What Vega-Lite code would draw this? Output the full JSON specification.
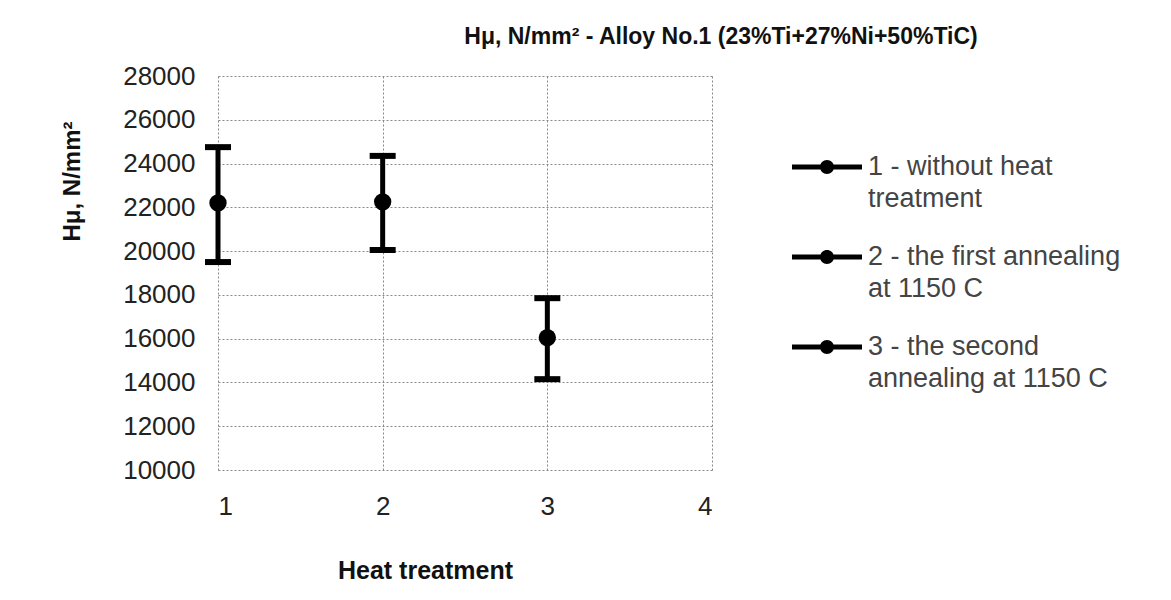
{
  "$schema": "https://vega.github.io/schema/vega-lite/v6.json",
  "autosize": "none",
  "padding": {"left": 218, "top": 76, "right": 459, "bottom": 130},
  "width": 494,
  "height": 394,
  "background": "white",
  "title": {
    "text": "Hμ, N/mm² - Alloy No.1 (23%Ti+27%Ni+50%TiC)",
    "font": "Liberation Sans",
    "fontSize": 23,
    "fontWeight": "bold",
    "color": "#111",
    "anchor": "middle",
    "frame": "group",
    "dx": 256,
    "offset": 14
  },
  "data": {
    "values": [
      {"treatment": 1, "mean": 22200, "low": 19500, "high": 24750, "series": "1 - without heat|treatment"},
      {"treatment": 2, "mean": 22250, "low": 20050, "high": 24350, "series": "2 - the first annealing|at 1150 C"},
      {"treatment": 3, "mean": 16050, "low": 14150, "high": 17850, "series": "3 - the second|annealing at 1150 C"}
    ]
  },
  "encoding": {
    "x": {
      "field": "treatment",
      "type": "quantitative",
      "scale": {"domain": [1, 4], "nice": false, "zero": false},
      "axis": {
        "values": [1, 2, 3, 4],
        "title": "Heat treatment",
        "titleFont": "Liberation Sans",
        "titleFontSize": 25,
        "titleFontWeight": "bold",
        "titleColor": "#111",
        "titleAlign": "center",
        "titleBaseline": "middle",
        "titleX": 207,
        "titleY": 100,
        "labelFont": "Liberation Sans",
        "labelFontSize": 26,
        "labelColor": "#222",
        "labelPadding": 23,
        "ticks": false,
        "domain": false,
        "grid": true,
        "gridColor": "#888",
        "gridDash": [2, 2],
        "gridWidth": 1
      }
    }
  },
  "layer": [
    {
      "mark": {"type": "errorbar", "color": "black", "thickness": 5, "opacity": 1, "ticks": {"size": 26, "thickness": 6, "color": "black", "opacity": 1}},
      "encoding": {
        "y": {
          "field": "low",
          "type": "quantitative",
          "scale": {"domain": [10000, 28000], "nice": false, "zero": false},
          "axis": {
            "values": [10000, 12000, 14000, 16000, 18000, 20000, 22000, 24000, 26000, 28000],
            "format": "d",
            "title": "Hμ, N/mm²",
            "titleFont": "Liberation Sans",
            "titleFontSize": 24,
            "titleFontWeight": "bold",
            "titleColor": "#111",
            "titleAngle": -90,
            "titleAlign": "center",
            "titleBaseline": "middle",
            "titleX": -146,
            "titleY": 105,
            "labelFont": "Liberation Sans",
            "labelFontSize": 26,
            "labelColor": "#222",
            "labelPadding": 23,
            "ticks": false,
            "domain": false,
            "grid": true,
            "gridColor": "#888",
            "gridDash": [2, 2],
            "gridWidth": 1
          }
        },
        "y2": {"field": "high"}
      }
    },
    {
      "mark": {"type": "point", "shape": "circle", "filled": true, "size": 300, "opacity": 1},
      "encoding": {
        "y": {"field": "mean", "type": "quantitative"},
        "color": {
          "field": "series",
          "type": "nominal",
          "scale": {"range": ["black", "black", "black"]},
          "legend": {
            "orient": "none",
            "legendX": 574,
            "legendY": 56,
            "title": null,
            "symbolType": "M-1,-0.07L1,-0.07L1,0.07L-1,0.07Z M0.2,0A0.2,0.2,0,1,1,-0.2,0A0.2,0.2,0,1,1,0.2,0Z",
            "symbolSize": 4900,
            "symbolStrokeWidth": 0,
            "symbolFillColor": "black",
            "labelExpr": "split(datum.label, '|')",
            "labelFont": "Liberation Sans",
            "labelFontSize": 27,
            "labelColor": "#444",
            "labelLimit": 400,
            "labelOffset": 6,
            "rowPadding": 10,
            "encode": {"labels": {"lineHeight": {"value": 32}}}
          }
        }
      }
    }
  ],
  "config": {
    "view": {"stroke": null},
    "style": {"guide-label": {"lineHeight": 32}}
  }
}
